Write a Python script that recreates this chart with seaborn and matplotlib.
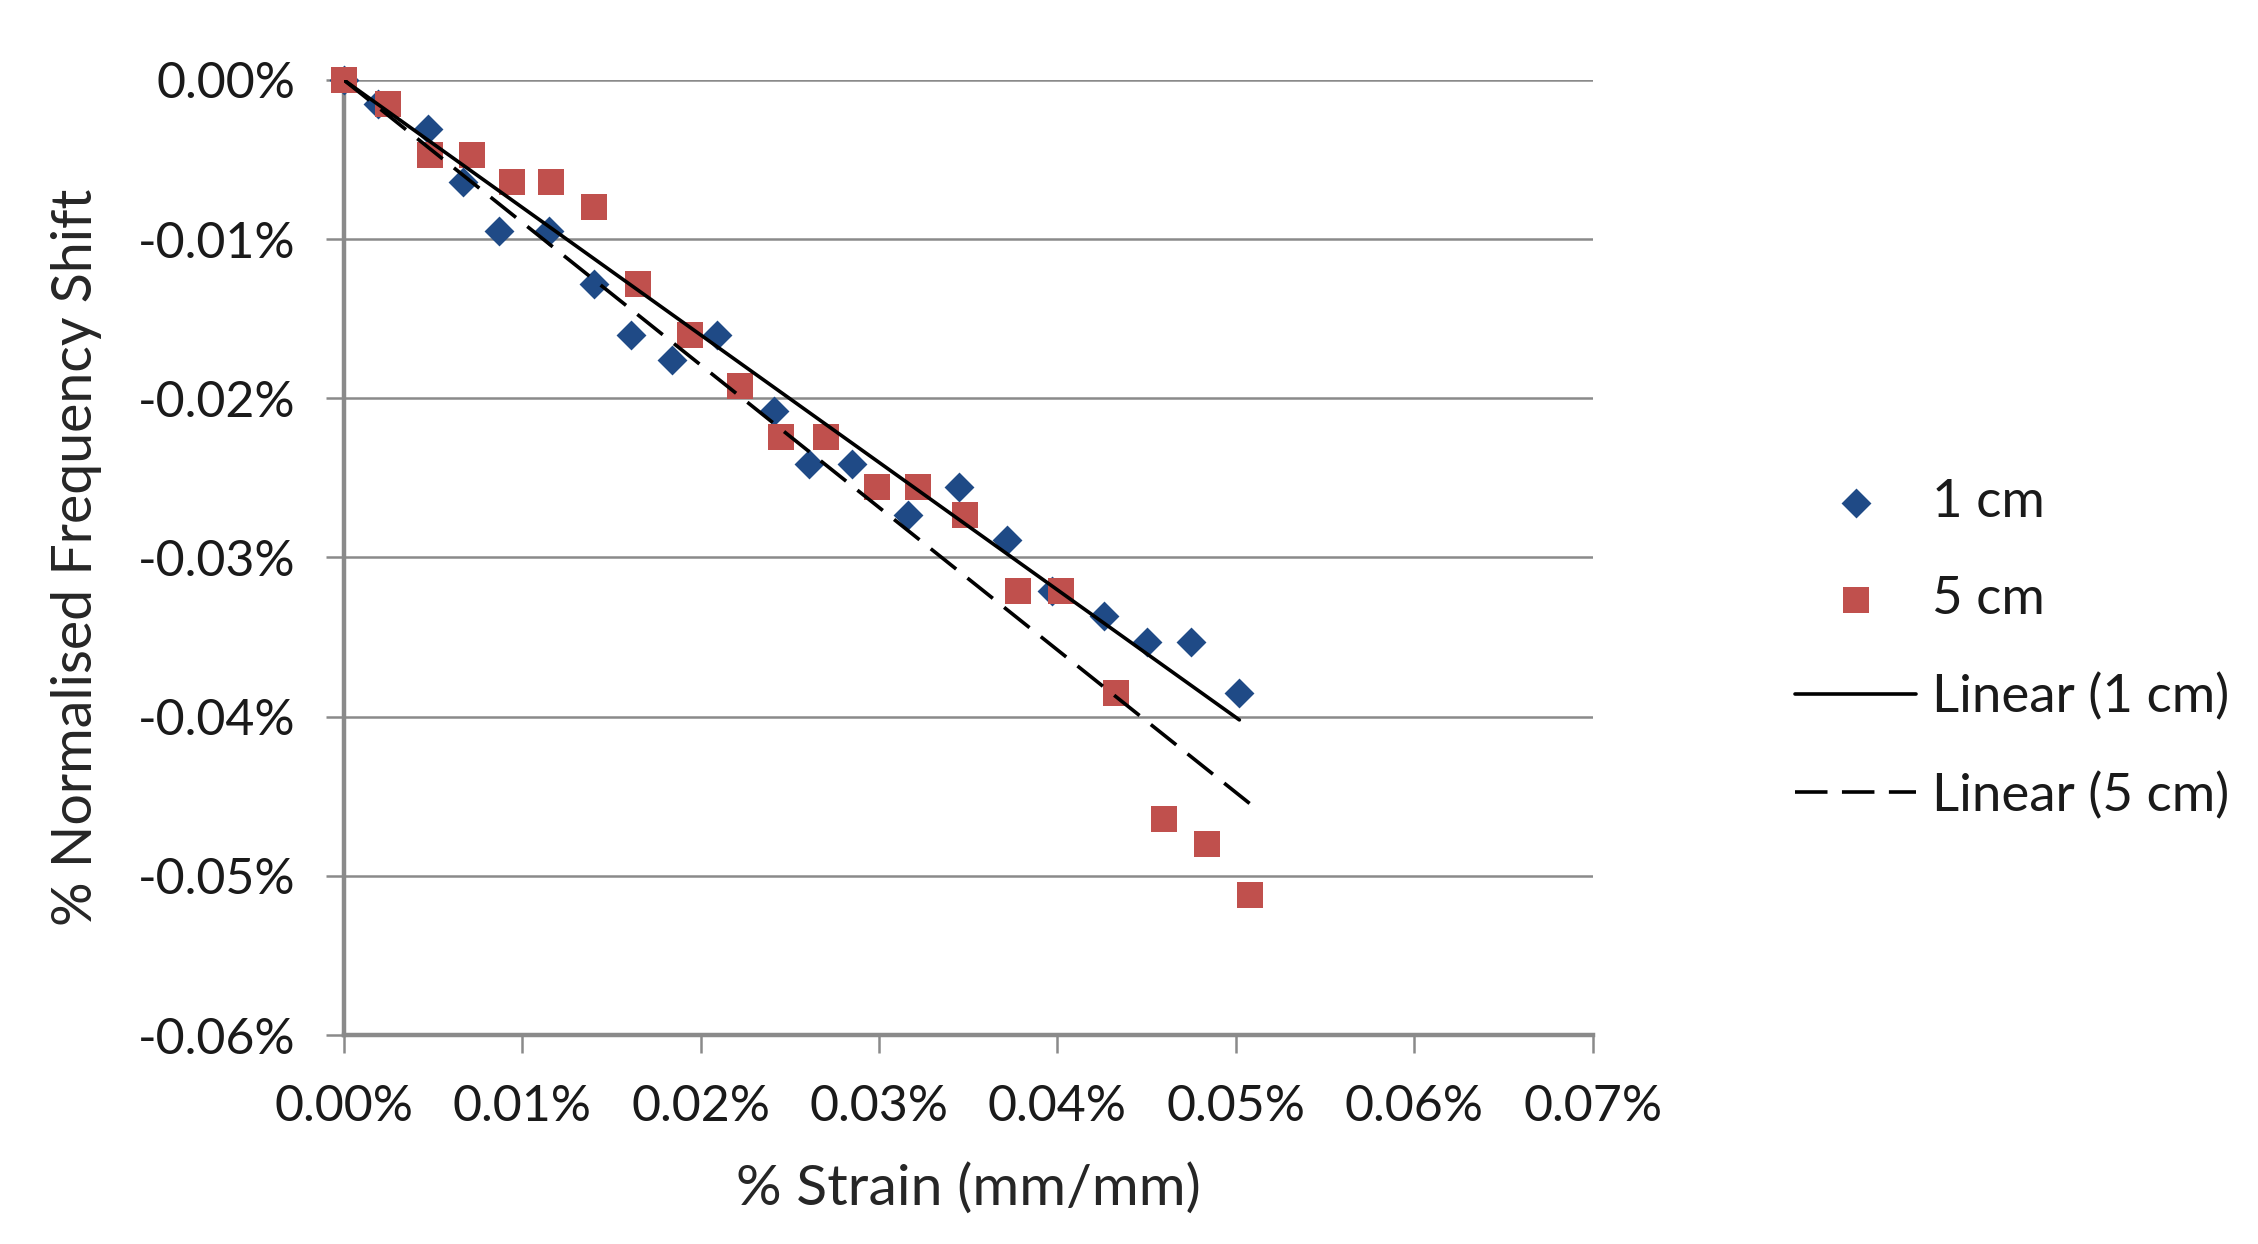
import numpy as np
import pandas as pd
import matplotlib
matplotlib.use("Agg")
import matplotlib.pyplot as plt
import seaborn as sns
from matplotlib.ticker import FuncFormatter

# ====== Data (values in %) ======
strain_1cm = [0.0000, 0.0019, 0.0047, 0.0067, 0.0087, 0.0115, 0.0140, 0.0161, 0.0184, 0.0209,
              0.0241, 0.0261, 0.0285, 0.0316, 0.0345, 0.0372, 0.0397, 0.0426, 0.0450, 0.0475, 0.0502]
shift_1cm = [0.0000, -0.0015, -0.0031, -0.0064, -0.0095, -0.0095, -0.0128, -0.0160, -0.0176, -0.0160,
             -0.0208, -0.0241, -0.0241, -0.0273, -0.0256, -0.0289, -0.0321, -0.0337, -0.0353, -0.0353, -0.0385]

strain_5cm = [0.0000, 0.0025, 0.0048, 0.0072, 0.0094, 0.0116, 0.0140, 0.0165, 0.0194, 0.0222,
              0.0245, 0.0270, 0.0299, 0.0322, 0.0348, 0.0378, 0.0402, 0.0433, 0.0460, 0.0484, 0.0508]
shift_5cm = [0.0000, -0.0015, -0.0047, -0.0047, -0.0064, -0.0064, -0.0080, -0.0128, -0.0160, -0.0192,
             -0.0224, -0.0224, -0.0256, -0.0256, -0.0273, -0.0321, -0.0321, -0.0385, -0.0464, -0.0480, -0.0512]

x_ticks = [0.00, 0.01, 0.02, 0.03, 0.04, 0.05, 0.06, 0.07]
y_ticks = [0.00, -0.01, -0.02, -0.03, -0.04, -0.05, -0.06]

blue = "#1F4A86"
red = "#C0504D"
grid_grey = "#8A8A8A"

sns.set_theme(style="white")
plt.rcParams["font.family"] = ["Lato", "DejaVu Sans"]
plt.rcParams["text.color"] = "#1A1A1A"

fig = plt.figure(figsize=(11.29, 6.22), dpi=200)
ax = fig.add_axes([0.1523, 0.168, 0.553, 0.7677])

df1 = pd.DataFrame({"x": strain_1cm, "y": shift_1cm})
df5 = pd.DataFrame({"x": strain_5cm, "y": shift_5cm})

sns.scatterplot(data=df1, x="x", y="y", ax=ax, marker="D", s=58, color=blue,
                edgecolor=blue, linewidth=0, label="1 cm", clip_on=False, zorder=3)
sns.scatterplot(data=df5, x="x", y="y", ax=ax, marker="s", s=90, color=red,
                edgecolor=red, linewidth=0, label="5 cm", clip_on=False, zorder=4)

# linear trendlines through the origin
def origin_fit(xs, ys):
    xs = np.asarray(xs)
    ys = np.asarray(ys)
    k = (xs * ys).sum() / (xs * xs).sum()
    xl = np.array([0.0, xs.max()])
    return pd.DataFrame({"x": xl, "y": k * xl})

sns.lineplot(data=origin_fit(strain_1cm, shift_1cm), x="x", y="y", ax=ax, color="black",
             linewidth=1.3, label="Linear (1 cm)", zorder=5)
sns.lineplot(data=origin_fit(strain_5cm, shift_5cm), x="x", y="y", ax=ax, color="black",
             linewidth=1.3, linestyle=(0, (9, 4)), label="Linear (5 cm)", zorder=5)

ax.set_xlim(0, 0.07)
ax.set_ylim(-0.06, 0)
ax.set_xticks(x_ticks)
ax.set_yticks(y_ticks)

fmt = FuncFormatter(lambda v, p: "{:.2f}%".format(0.0 if abs(v) < 1e-9 else v))
ax.xaxis.set_major_formatter(fmt)
ax.yaxis.set_major_formatter(fmt)

ax.grid(axis="y", color=grid_grey, linewidth=0.9)
ax.grid(axis="x", visible=False)
ax.set_axisbelow(True)

for side in ["top", "right"]:
    ax.spines[side].set_visible(False)
for side in ["left", "bottom"]:
    ax.spines[side].set_color(grid_grey)
    ax.spines[side].set_linewidth(1.6)

ax.tick_params(axis="both", which="major", direction="out", length=6.5, width=0.9,
               color=grid_grey, labelsize=18, labelcolor="#1A1A1A")
ax.tick_params(axis="y", pad=11, left=True)
ax.tick_params(axis="x", pad=11, bottom=True)

ax.set_xlabel("% Strain (mm/mm)", fontsize=20.5, labelpad=12)
ax.set_ylabel("% Normalised Frequency Shift", fontsize=20, labelpad=13)

leg = ax.legend(loc="center left", bbox_to_anchor=(0.795, 0.478), bbox_transform=fig.transFigure,
                frameon=False, fontsize=19, handlelength=2.3, handletextpad=0.3,
                labelspacing=0.95, borderpad=0, borderaxespad=0)

fig.savefig("out.png", dpi=200)
